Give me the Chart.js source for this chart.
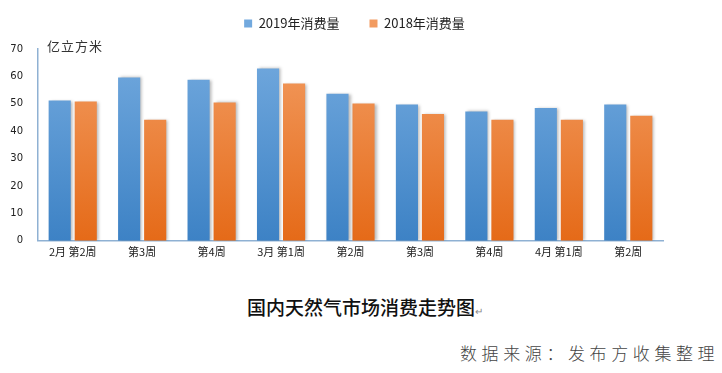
<!DOCTYPE html>
<html>
<head>
<meta charset="utf-8">
<script src="https://cdn.jsdelivr.net/npm/chart.js@4/dist/chart.umd.min.js"></script>
<style>
  html, body { margin: 0; padding: 0; background: #fff; }
  body { width: 722px; height: 373px; position: relative; overflow: hidden; font-family: "Noto Sans CJK SC", sans-serif; }
  #wrap { position: absolute; left: 0; top: 0; width: 722px; height: 262px; }
  #unit { position: absolute; left: 47px; top: 36px; font-size: 13px; color: #333; letter-spacing: 1px; }
  #title { position: absolute; left: 247px; top: 293px; font-size: 19px; color: #111; font-weight: 500; white-space: nowrap; }
  #title span { font-size: 10px; color: #888; font-weight: 400; }
  #source { position: absolute; left: 460px; top: 340px; font-size: 17px; color: #444; letter-spacing: 4.6px; font-weight: 300; white-space: nowrap; }
</style>
</head>
<body>
<div id="wrap"><canvas id="chart"></canvas></div>
<div id="unit">亿立方米</div>
<div id="title">国内天然气市场消费走势图<span>↵</span></div>
<div id="source">数据来源：发布方收集整理</div>
<script>
  const weeks = ["2月 第2周", "第3周", "第4周", "3月 第1周", "第2周", "第3周", "第4周", "4月 第1周", "第2周"];
  const use2019 = [51.2, 59.6, 58.8, 62.9, 53.7, 49.7, 47.2, 48.5, 49.7];
  const use2018 = [50.8, 44.2, 50.5, 57.4, 50.1, 46.3, 44.2, 44.2, 45.6];
  const yTicks = [0, 10, 20, 30, 40, 50, 60, 70];

  function gradient(ctx, top, bottom) {
    const area = ctx.chart.chartArea;
    if (!area) return bottom;
    const g = ctx.chart.ctx.createLinearGradient(0, area.top, 0, area.bottom);
    g.addColorStop(0, top);
    g.addColorStop(1, bottom);
    return g;
  }

  // soft grey shadow on the right of each bar, like the office chart
  const barShadow = {
    id: "barShadow",
    beforeDatasetsDraw(chart) {
      const c = chart.ctx;
      c.save();
      c.shadowColor = "rgba(0,0,0,0.28)";
      c.shadowBlur = 3;
      c.shadowOffsetX = 2;
      c.shadowOffsetY = 0;
    },
    afterDatasetsDraw(chart) {
      chart.ctx.restore();
    },
  };

  // more room under the legend, and nudge it right to sit where the original has it
  const legendRoom = {
    id: "legendRoom",
    afterInit(chart) {
      const lg = chart.legend;
      if (!lg || lg._roomPatched) return;
      const fit = lg.fit.bind(lg);
      lg.fit = function () {
        fit();
        this.height += 9;
      };
      lg._roomPatched = true;
    },
    afterLayout(chart) {
      const lg = chart.legend;
      if (!lg) return;
      lg.left += 23;
      lg.right += 23;
    },
  };

  const axisColor = "#8fb1d3";
  const numFont = { family: "'DejaVu Sans', 'Noto Sans CJK SC'", size: 10 };

  new Chart(document.getElementById("chart"), {
    type: "bar",
    data: {
      labels: weeks,
      datasets: [
        {
          label: "2019年消费量",
          data: use2019,
          backgroundColor: (ctx) => gradient(ctx, "#72a9de", "#3d82c5"),
        },
        {
          label: "2018年消费量",
          data: use2018,
          backgroundColor: (ctx) => gradient(ctx, "#f29b60", "#e56a18"),
        },
      ],
    },
    plugins: [barShadow, legendRoom],
    options: {
      responsive: true,
      maintainAspectRatio: false,
      animation: false,
      layout: { padding: { left: 0, right: 59, top: -13, bottom: 0 } },
      datasets: { bar: { categoryPercentage: 0.75, barPercentage: 0.85 } },
      plugins: {
        tooltip: { enabled: false },
        legend: {
          position: "top",
          labels: {
            boxWidth: 8,
            boxHeight: 8,
            padding: 30,
            color: "#222",
            font: { family: "'Noto Sans CJK SC'", size: 13 },
          },
        },
      },
      scales: {
        x: {
          grid: { display: false, drawTicks: false },
          border: { display: true, color: axisColor, width: 1.5 },
          ticks: { color: "#222", padding: 4, maxRotation: 0, font: { family: "'Noto Sans CJK SC'", size: 11 } },
        },
        y: {
          min: 0,
          max: 70,
          afterFit: (scale) => { scale.width = 38; },
          afterBuildTicks: (scale) => { scale.ticks = yTicks.map((v) => ({ value: v })); },
          grid: { display: false, drawTicks: false },
          border: { display: true, color: axisColor, width: 1.5 },
          ticks: { color: "#222", padding: 15, font: numFont },
        },
      },
    },
  });
</script>
</body>
</html>
